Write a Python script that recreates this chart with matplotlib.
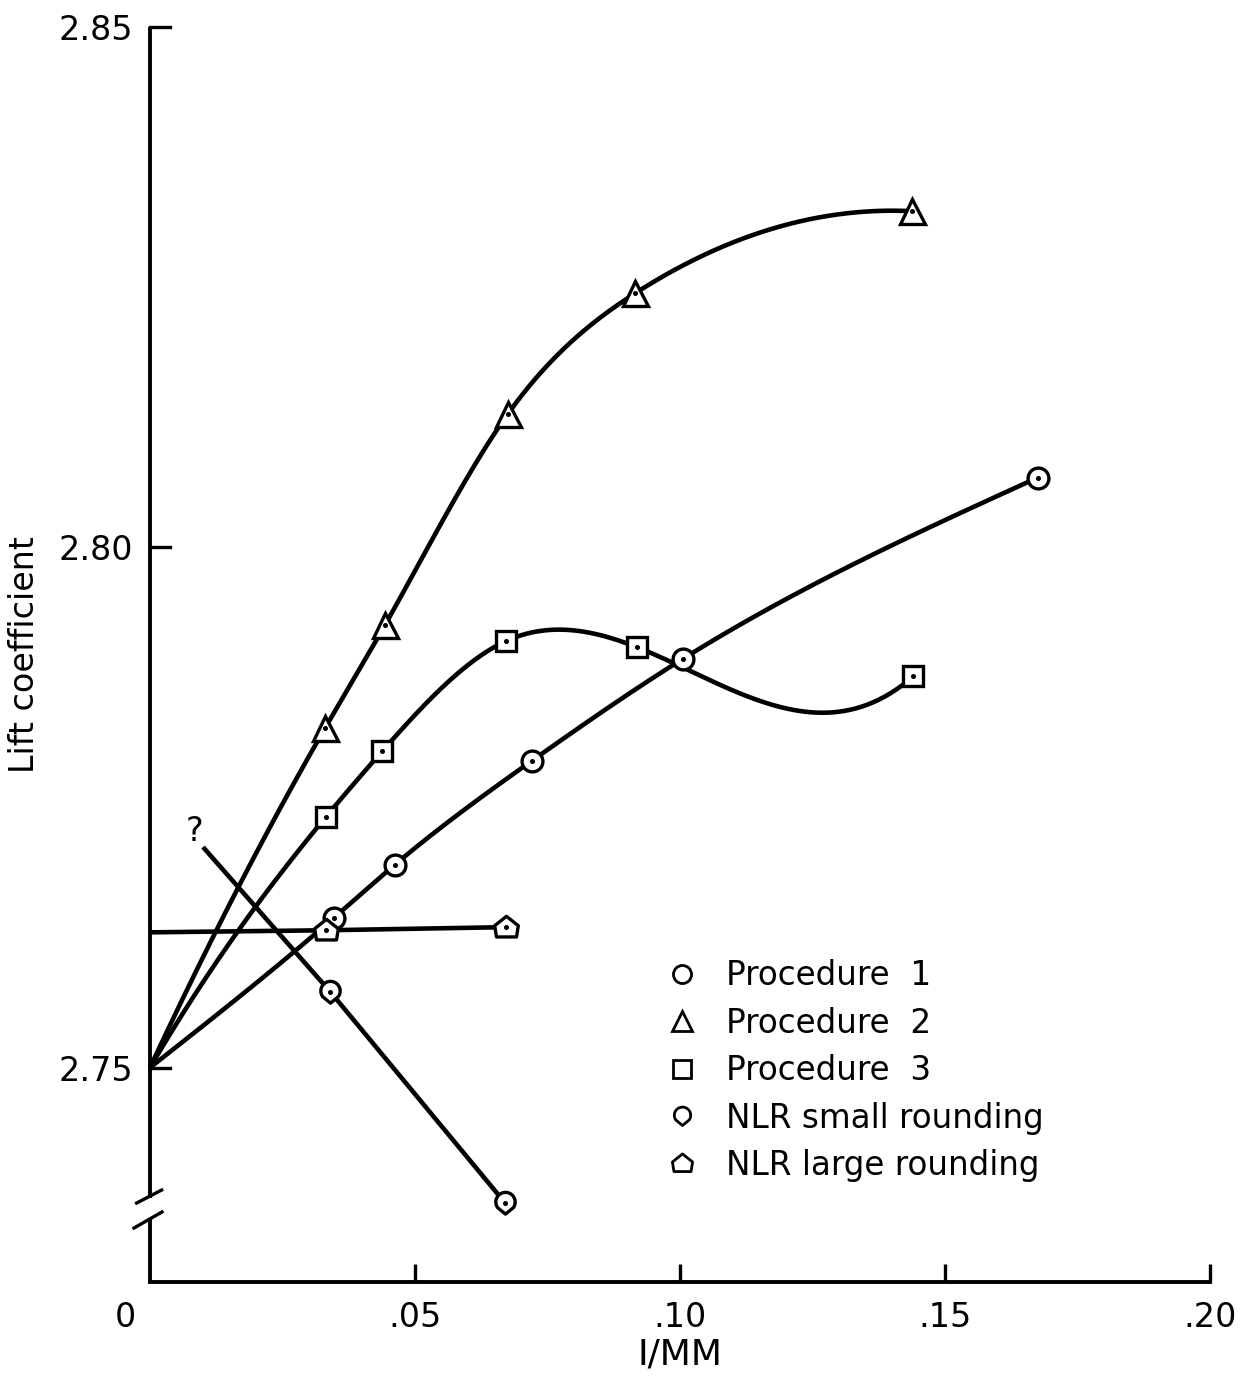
import numpy as np
import matplotlib
matplotlib.use("Agg")
import matplotlib.pyplot as plt
import matplotlib.transforms as mtransforms
from matplotlib.path import Path
from matplotlib.lines import Line2D

# ---- data -------------------------------------------------------------
origin_x = 0.0
origin_y = 2.75

proc1_x = [0.0347, 0.0462, 0.0721, 0.1006, 0.1675]
proc1_y = [2.7644, 2.7695, 2.7795, 2.7893, 2.8067]

proc2_x = [0.0330, 0.0443, 0.0675, 0.0915, 0.1438]
proc2_y = [2.7826, 2.7925, 2.8128, 2.8244, 2.8323]

proc3_x = [0.0332, 0.0438, 0.0672, 0.0919, 0.1440]
proc3_y = [2.7741, 2.7804, 2.7910, 2.7904, 2.7876]

nlr_small_x = [0.0340, 0.0670]
nlr_small_y = [2.7573, 2.7370]
nlr_small_start = (0.0100, 2.7712)   # extrapolated start, marked "?"

nlr_large_x = [0.0332, 0.0672]
nlr_large_y = [2.7632, 2.7635]
nlr_large_start_y = 2.7630

x_ticks = [0.05, 0.10, 0.15, 0.20]
x_tick_labels = [".05", ".10", ".15", ".20"]
y_ticks = [2.75, 2.80, 2.85]
y_tick_labels = ["2.75", "2.80", "2.85"]

legend_labels = ["Procedure  1", "Procedure  2", "Procedure  3",
                 "NLR small rounding", "NLR large rounding"]


# ---- smooth curve through points (piecewise cubic spline) -------------
def cubic_spline(x, y, end="natural", n=400):
    x = np.asarray(x, float)
    y = np.asarray(y, float)
    m = len(x) - 1
    A = np.zeros((4 * m, 4 * m))
    b = np.zeros(4 * m)
    r = 0
    # polynomial on interval i: a + b t + c t^2 + d t^3, t = x - x_i
    for i in range(m):
        h = x[i + 1] - x[i]
        A[r, 4 * i] = 1; b[r] = y[i]; r += 1
        A[r, 4 * i:4 * i + 4] = [1, h, h ** 2, h ** 3]; b[r] = y[i + 1]; r += 1
    for i in range(m - 1):
        h = x[i + 1] - x[i]
        A[r, 4 * i:4 * i + 4] = [0, 1, 2 * h, 3 * h ** 2]
        A[r, 4 * (i + 1) + 1] = -1; r += 1
        A[r, 4 * i:4 * i + 4] = [0, 0, 2, 6 * h]
        A[r, 4 * (i + 1) + 2] = -2; r += 1
    if end == "natural":
        A[r, 2] = 2; r += 1
        h = x[m] - x[m - 1]
        A[r, 4 * (m - 1) + 2] = 2
        A[r, 4 * (m - 1) + 3] = 6 * h; r += 1
    elif end == "parabolic":
        A[r, 3] = 1; r += 1
        A[r, 4 * (m - 1) + 3] = 1; r += 1
    else:  # not-a-knot
        A[r, 3] = 1; A[r, 7] = -1; r += 1
        A[r, 4 * (m - 2) + 3] = 1; A[r, 4 * (m - 1) + 3] = -1; r += 1
    coef = np.linalg.solve(A, b).reshape(m, 4)
    xs = np.linspace(x[0], x[-1], n)
    idx = np.clip(np.searchsorted(x, xs, side="right") - 1, 0, m - 1)
    t = xs - x[idx]
    c = coef[idx]
    ys = c[:, 0] + c[:, 1] * t + c[:, 2] * t ** 2 + c[:, 3] * t ** 3
    return xs, ys


# ---- marker shapes ----------------------------------------------------
ang = np.deg2rad(np.linspace(-35, 215, 30))
small_verts = [(np.cos(a), 0.15 + np.sin(a)) for a in ang] + [(0.0, -1.1)]
small_round = Path(small_verts + [small_verts[0]],
                   [Path.MOVETO] + [Path.LINETO] * (len(small_verts) - 1) + [Path.CLOSEPOLY])
large_verts = [(-0.85, -0.8), (0.85, -0.8), (1.0, 0.15), (0.0, 0.95), (-1.0, 0.15), (-0.85, -0.8)]
large_round = Path(large_verts,
                   [Path.MOVETO] + [Path.LINETO] * 4 + [Path.CLOSEPOLY])

# ---- figure -----------------------------------------------------------
plt.rcParams["font.family"] = ["DejaVu Sans"]
fig = plt.figure(figsize=(12.45, 13.85), dpi=100)
ax = fig.add_axes([150 / 1245, 103 / 1385, 1060 / 1245, 1255 / 1385])

ymin, ymax = 2.7294, 2.85
ax.set_xlim(0, 0.20)
ax.set_ylim(ymin, ymax)

LW = 3.3
mk = dict(markerfacecolor="white", markeredgecolor="black",
          markeredgewidth=2.4, linestyle="none", zorder=4, clip_on=False)
dot = dict(marker="o", markersize=2.6, color="black", linestyle="none",
           zorder=5, clip_on=False)

# Procedure curves, drawn from the common extrapolated origin
curves = [
    (proc1_x, proc1_y, "o", 15, "natural"),
    (proc2_x, proc2_y, "^", 18, "parabolic"),
    (proc3_x, proc3_y, "s", 14, "not-a-knot"),
]
for xs, ys, m, ms, end in curves:
    cx, cy = cubic_spline([origin_x] + xs, [origin_y] + ys, end=end)
    ax.plot(cx, cy, color="black", lw=LW, zorder=3, clip_on=False,
            solid_capstyle="butt")
    ax.plot(xs, ys, marker=m, markersize=ms, **mk)
    ax.plot(xs, ys, **dot)

# NLR small rounding
ax.plot([nlr_small_start[0]] + nlr_small_x, [nlr_small_start[1]] + nlr_small_y,
        color="black", lw=LW, zorder=3, clip_on=False, solid_capstyle="butt")
ax.plot(nlr_small_x, nlr_small_y, marker=small_round, markersize=16, **mk)
ax.plot(nlr_small_x, nlr_small_y, **dot)
ax.annotate("?", xy=nlr_small_start, xytext=(-6, 11), textcoords="offset points",
            fontsize=24, ha="center", va="center")

# NLR large rounding
ax.plot([0.0] + nlr_large_x, [nlr_large_start_y] + nlr_large_y,
        color="black", lw=LW, zorder=3, clip_on=False, solid_capstyle="butt")
ax.plot(nlr_large_x, nlr_large_y, marker=large_round, markersize=17, **mk)
ax.plot(nlr_large_x, nlr_large_y, **dot)

# ---- axes -------------------------------------------------------------
for s in ("top", "right", "left"):
    ax.spines[s].set_visible(False)
ax.spines["bottom"].set_linewidth(2.8)

# left axis with a scale break
sp = dict(color="black", lw=2.8, transform=ax.transAxes, clip_on=False,
          solid_capstyle="butt")
ax.plot([0, 0], [1.0, 0.0669], **sp)
ax.plot([0, 0], [0.0510, -0.001], **sp)
ax.plot([-0.0126, 0.0110], [0.0629, 0.0733], color="black", lw=2.4,
        transform=ax.transAxes, clip_on=False)
ax.plot([-0.0151, 0.0113], [0.0430, 0.0558], color="black", lw=2.4,
        transform=ax.transAxes, clip_on=False)

ax.set_xticks(x_ticks)
ax.set_xticklabels(x_tick_labels)
ax.set_yticks(y_ticks)
ax.set_yticklabels(y_tick_labels)
ax.tick_params(axis="x", direction="in", length=13, width=2.4, pad=14,
               labelsize=24)
ax.tick_params(axis="y", direction="in", length=14, width=2.4, pad=12,
               labelsize=24, left=False)
# y ticks drawn on the manual spine
for yt in y_ticks:
    ax.plot([0, 0.0185], [yt, yt], color="black", lw=2.4,
            transform=ax.get_yaxis_transform(), clip_on=False)

# origin label, set left of the axis corner
ax.text(-0.0047, ymin, "0", fontsize=24, ha="center", va="top",
        transform=ax.transData + mtransforms.ScaledTranslation(
            0, -19 / 100, fig.dpi_scale_trans))

ax.set_xlabel("I/MM", fontsize=26, labelpad=2)
ax.set_ylabel("Lift coefficient", fontsize=24, labelpad=13)

# ---- legend -----------------------------------------------------------
leg_markers = ["o", "^", "s", small_round, large_round]
leg_sizes = [13, 15, 12.5, 13.5, 14.5]
handles = [Line2D([], [], marker=m, markersize=s, markerfacecolor="white",
                  markeredgecolor="black", markeredgewidth=2.0, linestyle="none")
           for m, s in zip(leg_markers, leg_sizes)]
ax.legend(handles, legend_labels, loc="upper left",
          bbox_to_anchor=(0.4715, 0.27), frameon=False, fontsize=23.5,
          handlelength=1.0, handletextpad=0.82, labelspacing=0.44,
          borderpad=0)

fig.savefig("out.png", dpi=100)
